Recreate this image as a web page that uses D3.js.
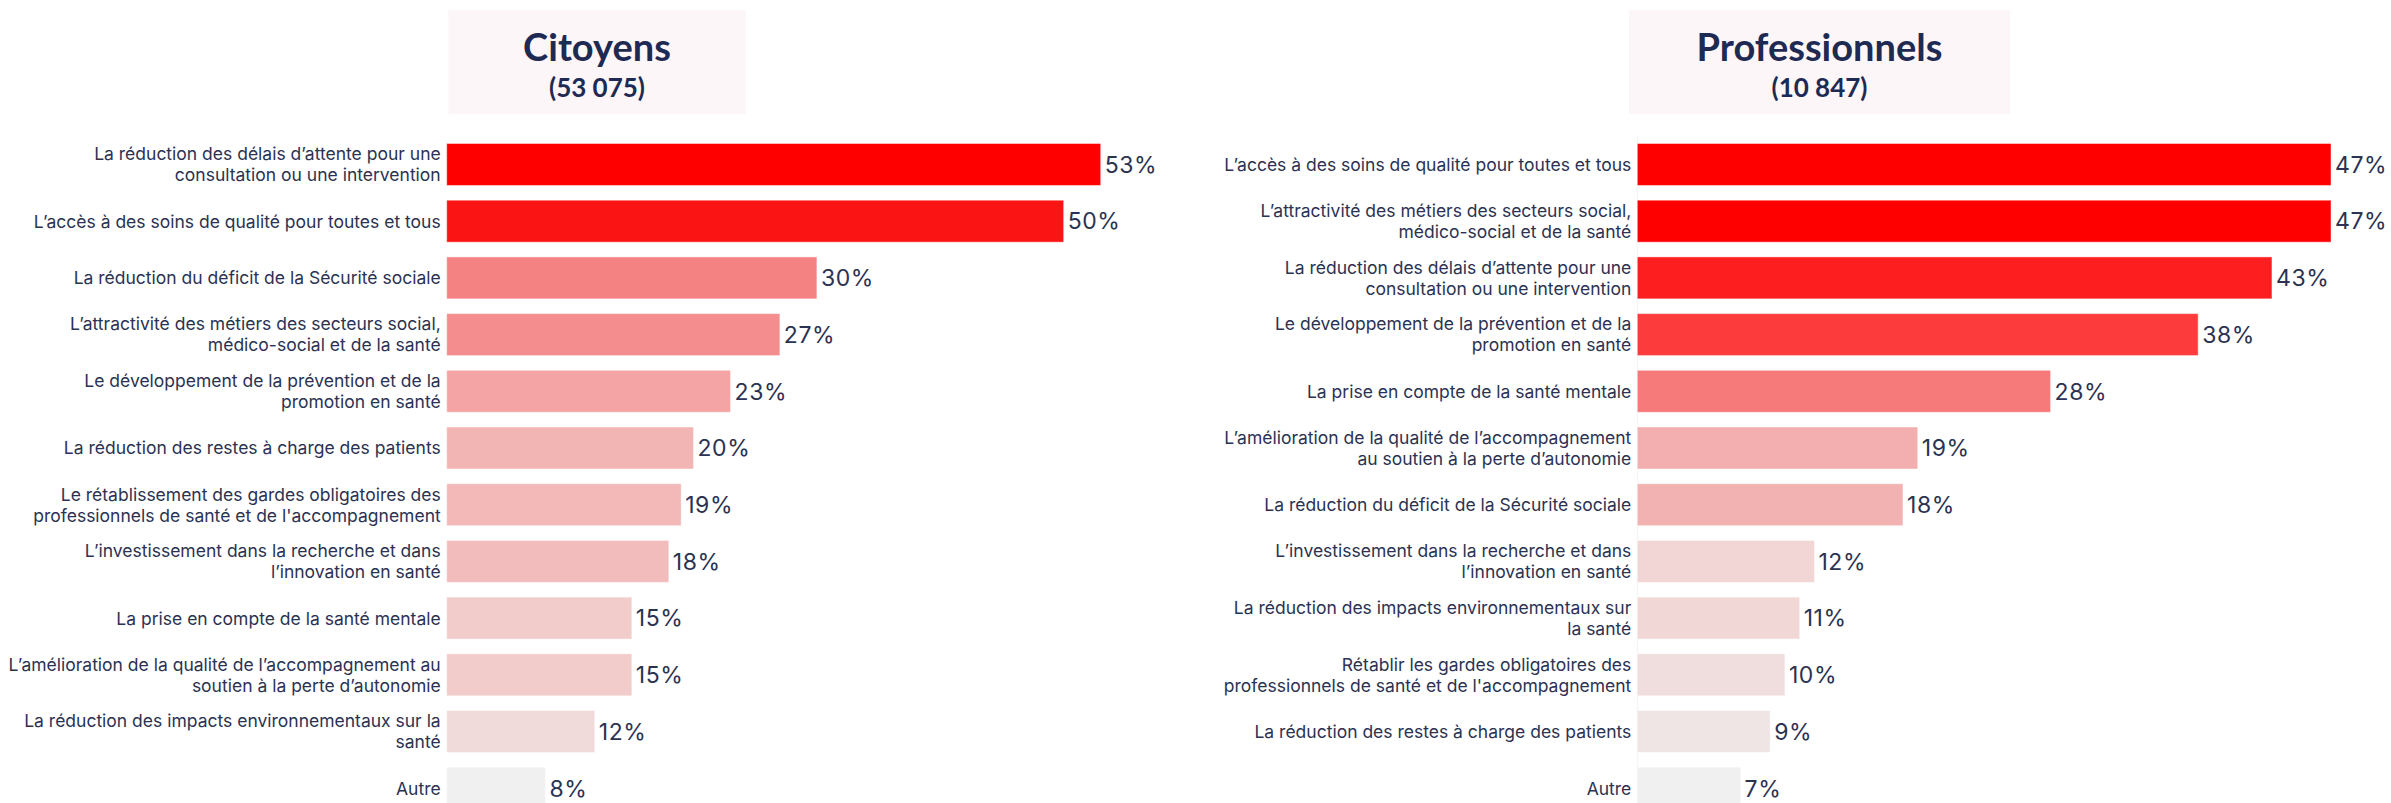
<!DOCTYPE html>
<html>
<head>
<meta charset="utf-8">
<script src="https://cdn.jsdelivr.net/npm/d3@7"></script>
<style>
html, body { margin: 0; padding: 0; background: #ffffff; }
svg { display: block; }
</style>
</head>
<body>
<svg id="chart" width="2391" height="803"></svg>
<script>
// ---- Data ----
const citoyensTitle = "Citoyens";
const citoyensCount = "(53 075)";
const citoyensCategories = [
  "La réduction des délais d’attente pour une|consultation ou une intervention",
  "L’accès à des soins de qualité pour toutes et tous",
  "La réduction du déficit de la Sécurité sociale",
  "L’attractivité des métiers des secteurs social,|médico-social et de la santé",
  "Le développement de la prévention et de la|promotion en santé",
  "La réduction des restes à charge des patients",
  "Le rétablissement des gardes obligatoires des|professionnels de santé et de l'accompagnement",
  "L’investissement dans la recherche et dans|l’innovation en santé",
  "La prise en compte de la santé mentale",
  "L’amélioration de la qualité de l’accompagnement au|soutien à la perte d’autonomie",
  "La réduction des impacts environnementaux sur la|santé",
  "Autre"
];
const citoyensValues = [53, 50, 30, 27, 23, 20, 19, 18, 15, 15, 12, 8];

const proTitle = "Professionnels";
const proCount = "(10 847)";
const proCategories = [
  "L’accès à des soins de qualité pour toutes et tous",
  "L’attractivité des métiers des secteurs social,|médico-social et de la santé",
  "La réduction des délais d’attente pour une|consultation ou une intervention",
  "Le développement de la prévention et de la|promotion en santé",
  "La prise en compte de la santé mentale",
  "L’amélioration de la qualité de l’accompagnement|au soutien à la perte d’autonomie",
  "La réduction du déficit de la Sécurité sociale",
  "L’investissement dans la recherche et dans|l’innovation en santé",
  "La réduction des impacts environnementaux sur|la santé",
  "Rétablir les gardes obligatoires des|professionnels de santé et de l'accompagnement",
  "La réduction des restes à charge des patients",
  "Autre"
];
const proValues = [47, 47, 43, 38, 28, 19, 18, 12, 11, 10, 9, 7];

// ---- Styles ----
const citoyensColors = ["#FF0000", "#FB1414", "#F58282", "#F48D8D", "#F4A4A4", "#F3B4B4",
                        "#F3B8B8", "#F3BCBC", "#F2CBCB", "#F2CBCB", "#F1DADA", "#F0F0F0"];
const proColors = ["#FF0000", "#FF0000", "#FD1F1F", "#FC3C3C", "#F77A7A", "#F3AFAF",
                   "#F3B2B2", "#F2D5D5", "#F2D7D7", "#F0DEDE", "#EFE5E5", "#F0F0F0"];

const svg = d3.select("#chart");
const textColor = "#2B3252";
const titleColor = "#1F2A52";

function panel(cfg) {
  const g = svg.append("g");
  const ids = cfg.categories.map((c, i) => i);

  const y = d3.scaleBand()
    .domain(ids)
    .range([143.5, 809.2])
    .paddingInner(0.26)
    .paddingOuter(0);

  const x = d3.scaleLinear()
    .domain([0, cfg.max])
    .range([cfg.left, cfg.right]);

  // title box
  g.append("rect")
    .attr("x", cfg.boxX).attr("y", 10)
    .attr("width", cfg.boxW).attr("height", 104)
    .attr("fill", "#FDF6F8");
  g.append("text")
    .attr("x", cfg.boxX + cfg.boxW / 2).attr("y", 61)
    .attr("text-anchor", "middle")
    .attr("font-family", "Lato, 'Open Sans', sans-serif")
    .attr("font-weight", 700)
    .attr("font-size", 38)
    .attr("fill", titleColor)
    .text(cfg.title);
  g.append("text")
    .attr("x", cfg.boxX + cfg.boxW / 2).attr("y", 97)
    .attr("text-anchor", "middle")
    .attr("font-family", "Lato, 'Open Sans', sans-serif")
    .attr("font-weight", 700)
    .attr("font-size", 26)
    .attr("fill", titleColor)
    .text(cfg.count);

  if (cfg.axisLine) {
    g.append("line")
      .attr("x1", cfg.left).attr("x2", cfg.left)
      .attr("y1", 136).attr("y2", 803)
      .attr("stroke", "#F3F3F3").attr("stroke-width", 1);
  }

  // bars
  g.selectAll("rect.bar")
    .data(cfg.values)
    .join("rect")
    .attr("class", "bar")
    .attr("x", x(0))
    .attr("y", (d, i) => y(i))
    .attr("width", d => x(d) - x(0))
    .attr("height", y.bandwidth())
    .attr("fill", (d, i) => cfg.colors[i])
    .attr("stroke", "#ffffff")
    .attr("stroke-opacity", 0.45)
    .attr("stroke-width", 1);

  // value labels
  g.selectAll("text.val")
    .data(cfg.values)
    .join("text")
    .attr("class", "val")
    .attr("x", d => x(d) + 4)
    .attr("y", (d, i) => y(i) + y.bandwidth() / 2 + 8.3)
    .attr("font-family", "Inter, sans-serif")
    .attr("font-size", 23)
    .attr("letter-spacing", 0.6)
    .attr("fill", textColor)
    .text(d => d + "%");

  // category axis
  const axis = d3.axisLeft(y).tickSize(0).tickPadding(6).tickFormat(i => cfg.categories[i]);
  const ag = g.append("g").attr("transform", `translate(${cfg.left},0)`).call(axis);
  ag.select(".domain").remove();
  ag.selectAll(".tick text").each(function (i) {
    const t = d3.select(this);
    const lines = cfg.categories[i].split("|");
    t.text(null)
      .attr("font-family", "Inter, sans-serif")
      .attr("font-size", 17.5)
      .attr("fill", textColor)
      .attr("dy", null)
      .attr("text-anchor", "end");
    const n = lines.length;
    lines.forEach((ln, k) => {
      t.append("tspan")
        .attr("x", -6)
        .attr("y", (k - (n - 1) / 2) * 21 + 6.4)
        .text(ln);
    });
  });
}

panel({
  title: citoyensTitle, count: citoyensCount,
  categories: citoyensCategories, values: citoyensValues, colors: citoyensColors,
  max: 53, left: 446.7, right: 1100.7, boxX: 448.3, boxW: 297.4, axisLine: false
});
panel({
  title: proTitle, count: proCount,
  categories: proCategories, values: proValues, colors: proColors,
  max: 47, left: 1637.3, right: 2331, boxX: 1629, boxW: 381, axisLine: true
});
</script>
</body>
</html>
